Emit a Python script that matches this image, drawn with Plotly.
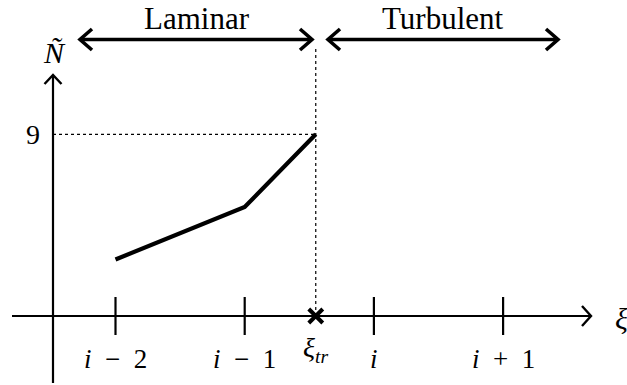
import plotly.graph_objects as go

# Grid positions along xi and their labels
tick_pos = [1, 2, 3, 4]
tick_labels = ["<i>i</i>\u2002\u2212\u20022", "<i>i</i>\u2002\u2212\u20021",
               "<i>i</i>", "<i>i</i>\u2002+\u20021"]

# Transition location and the N-tilde value reached there
xi_tr = 2.55
n_tr = 9

# Laminar N-tilde values at i-2, i-1 and at the transition point
node_x = [1, 2, xi_tr]
node_y = [2.8, 5.4, n_tr]

W, H = 627, 385
# pixel <-> data scale of the drawing
PX0, SX = 115.5, 129.2   # pixel of x=1, pixels per unit in x
PY0, SY = 316.0, 20.19   # pixel of y=0, pixels per unit in y


def dx(px):
    return 1 + (px - PX0) / SX


def dy(py):
    return (PY0 - py) / SY


FONT = "'Liberation Serif', 'Times New Roman', Times, serif"
BLACK = "black"

fig = go.Figure()


def chevron(tip_px, tip_py, direction, depth, half, width):
    """Open arrow head drawn as a polyline in pixel space."""
    if direction == "right":
        pts = [(tip_px - depth, tip_py - half), (tip_px, tip_py), (tip_px - depth, tip_py + half)]
    elif direction == "left":
        pts = [(tip_px + depth, tip_py - half), (tip_px, tip_py), (tip_px + depth, tip_py + half)]
    else:  # up
        pts = [(tip_px - half, tip_py + depth), (tip_px, tip_py), (tip_px + half, tip_py + depth)]
    fig.add_trace(go.Scatter(
        x=[dx(p[0]) for p in pts], y=[dy(p[1]) for p in pts],
        mode="lines", line=dict(color=BLACK, width=width),
        hoverinfo="skip", showlegend=False))


def seg(x0, y0, x1, y1, width, dash="solid"):
    fig.add_shape(type="line", x0=x0, y0=y0, x1=x1, y1=y1,
                  line=dict(color=BLACK, width=width, dash=dash), layer="above")


# Axes
seg(dx(12), 0, dx(590), 0, 2.2)
chevron(591, PY0, "right", 9, 10, 2.4)
seg(dx(53), dy(383), dx(53), dy(76), 2.2)
chevron(53, 75, "up", 9, 8.5, 2.4)

# Tick marks at grid points
for xp in tick_pos:
    seg(xp, dy(PY0 - 19), xp, dy(PY0 + 19), 2.2)

# Dotted guides to the transition point
seg(dx(53), n_tr, xi_tr, n_tr, 1.2, "dot")
seg(xi_tr, 0, xi_tr, dy(46), 1.2, "dot")

# Laminar / turbulent region arrows
for (a, b) in [(80, 312), (328, 558)]:
    seg(dx(a + 1), dy(39.5), dx(b - 1), dy(39.5), 3.6)
    chevron(a, 39.5, "left", 12, 10.5, 3.6)
    chevron(b, 39.5, "right", 12, 10.5, 3.6)

# N-tilde curve
fig.add_trace(go.Scatter(x=node_x, y=node_y, mode="lines",
                         line=dict(color=BLACK, width=4.2),
                         hoverinfo="skip", showlegend=False))

# Transition marker on the xi axis
fig.add_trace(go.Scatter(x=[xi_tr], y=[0], mode="markers",
                         marker=dict(symbol="x-thin", size=14,
                                     line=dict(color=BLACK, width=4)),
                         hoverinfo="skip", showlegend=False))


def label(x, y, text, size):
    fig.add_annotation(x=x, y=y, text=text, showarrow=False,
                       font=dict(family=FONT, size=size, color=BLACK),
                       xanchor="center", yanchor="middle")


for xp, t in zip(tick_pos, tick_labels):
    label(xp, dy(359), t, 27)
label(xi_tr, dy(349), "<i>\u03be</i><sub><i>tr</i></sub>", 28)
label(dx(621), dy(318), "<i>\u03be</i>", 30)
label(dx(33), n_tr, str(n_tr), 28)
label(dx(54), dy(52), "<i>\u00d1</i>", 30)
label(dx(197), dy(18), "Laminar", 31)
label(dx(443), dy(18), "Turbulent", 31)

fig.update_layout(
    width=W, height=H,
    margin=dict(l=0, r=0, t=0, b=0),
    paper_bgcolor="white", plot_bgcolor="white",
    xaxis=dict(visible=False, range=[dx(0), dx(W)], fixedrange=True),
    yaxis=dict(visible=False, range=[dy(H), dy(0)], fixedrange=True),
    showlegend=False,
)

fig.write_html("out.html")
